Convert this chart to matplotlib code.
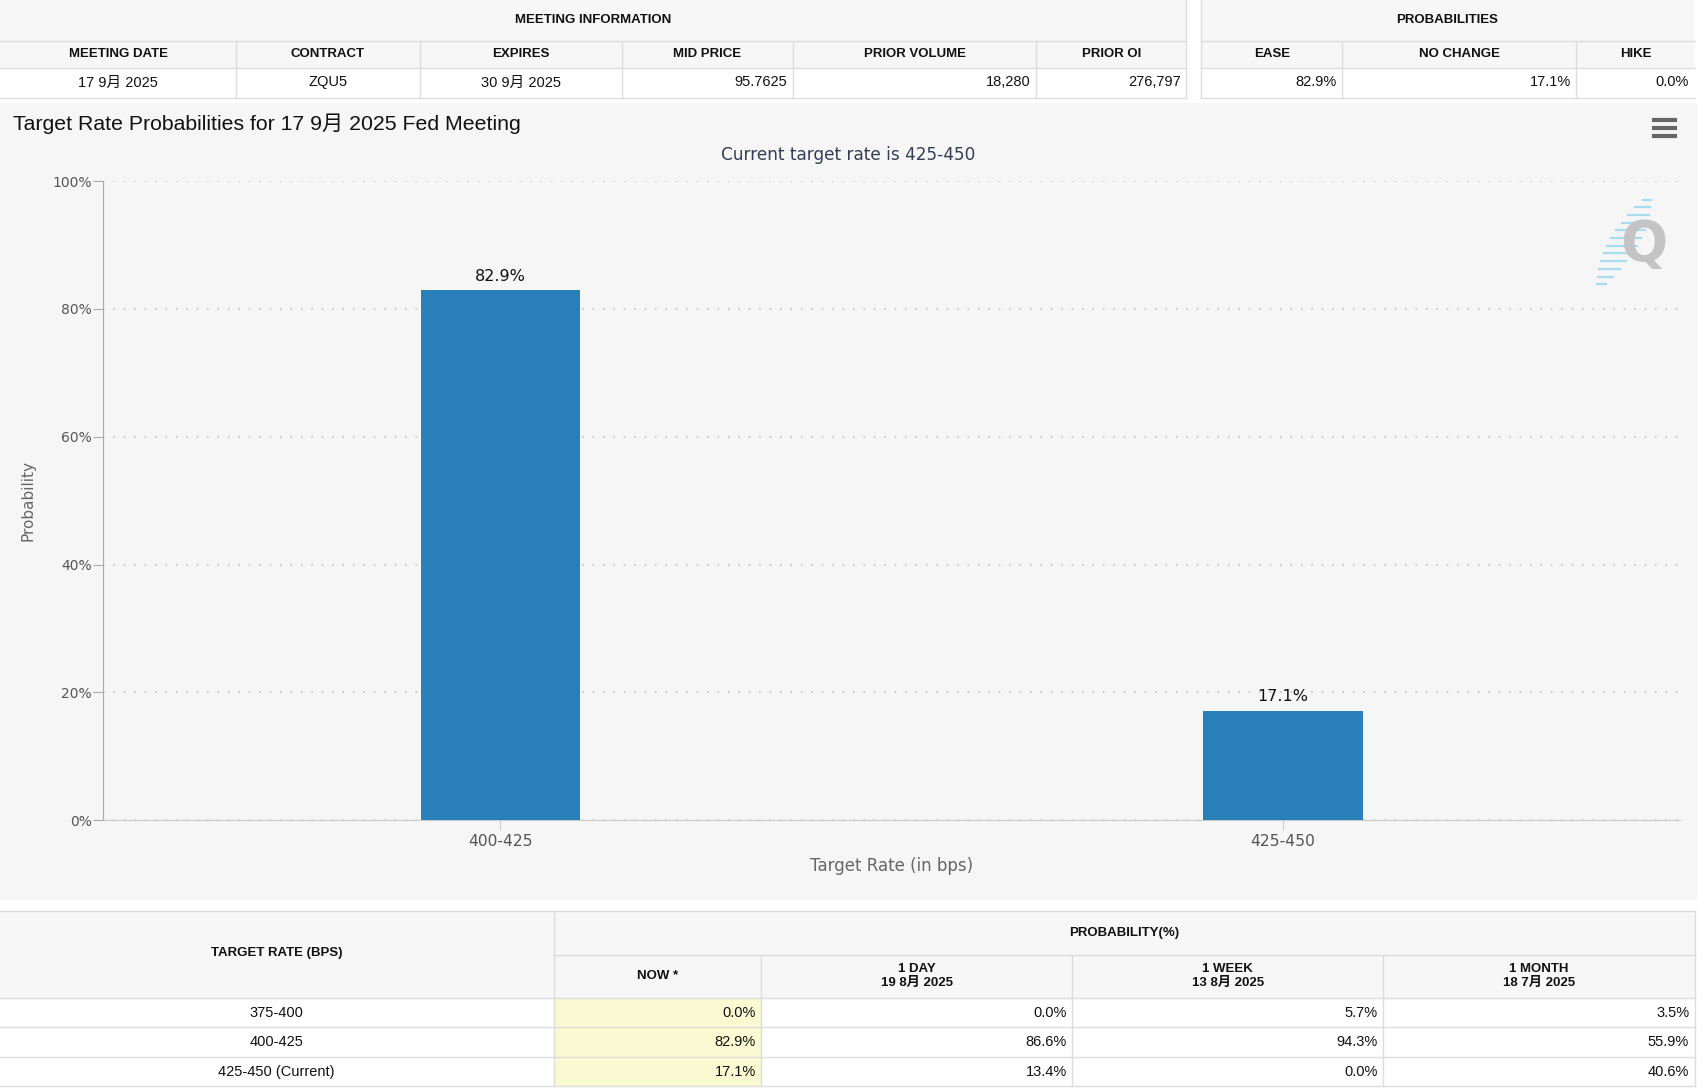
import numpy as np
import matplotlib.pyplot as plt
from matplotlib.patches import Rectangle
from matplotlib.lines import Line2D

# --- data -----------------------------------------------------------------
meeting_headers = ['MEETING DATE', 'CONTRACT', 'EXPIRES', 'MID PRICE', 'PRIOR VOLUME', 'PRIOR OI']
meeting_values = ['17 9月 2025', 'ZQU5', '30 9月 2025', '95.7625', '18,280', '276,797']
prob_headers = ['EASE', 'NO CHANGE', 'HIKE']
prob_values = ['82.9%', '17.1%', '0.0%']

rate_bins = ['400-425', '425-450']
probabilities = [82.9, 17.1]

table_rates = ['375-400', '400-425', '425-450 (Current)']
period_headers = ['NOW *', '1 DAY\n19 8月 2025', '1 WEEK\n13 8月 2025', '1 MONTH\n18 7月 2025']
prob_now = [0.0, 82.9, 17.1]
prob_1day = [0.0, 86.6, 13.4]
prob_1week = [5.7, 94.3, 0.0]
prob_1month = [3.5, 55.9, 40.6]

# --- layout helpers (reference pixel grid 1568 x 1003) --------------------
W, H = 1568.0, 1003.0


def fx(x):
    return x / W


def fy(y):
    return 1 - y / H


NARROW = ['Liberation Sans Narrow', 'Liberation Sans', 'Noto Sans CJK SC']
ARIAL = ['Liberation Sans', 'Noto Sans CJK SC']
GRID = '#dddddd'

fig = plt.figure(figsize=(17, 10.88), dpi=100, facecolor='white')


def rect(x0, y0, x1, y1, color):
    fig.patches.append(Rectangle((fx(x0), fy(y1)), fx(x1) - fx(x0), fy(y0) - fy(y1),
                                 transform=fig.transFigure, facecolor=color,
                                 edgecolor='none', zorder=-2))


def line(x0, y0, x1, y1, color=GRID, lw=1.0):
    fig.lines.append(Line2D([fx(x0), fx(x1)], [fy(y0), fy(y1)],
                            transform=fig.transFigure, color=color, lw=lw, zorder=-1))


def txt(x, y, s, ha='center', size=9.5, weight='normal', family=NARROW, color='#111111'):
    fig.text(fx(x), fy(y), s, ha=ha, va='center', fontsize=size, fontweight=weight,
             family=family, color=color, linespacing=1.25)


# --- top tables ------------------------------------------------------------
meet_edges = [0, 218, 387, 574, 731, 956, 1094]
prob_edges = [1108, 1238, 1454, 1563]
for x0, x1 in [(meet_edges[0], meet_edges[-1]), (prob_edges[0], prob_edges[-1])]:
    rect(x0, 0, x1, 63, '#f7f7f7')
    rect(x0, 63, x1, 90, 'white')
    for yy in (38, 63, 90):
        line(x0, yy, x1, yy)
for edges in (meet_edges, prob_edges):
    for xx in edges[1:-1]:
        line(xx, 38, xx, 90)
line(1094, 0, 1094, 90)
line(1108, 0, 1108, 90)

txt(547, 18, 'MEETING INFORMATION', weight='bold')
txt(1335, 18, 'PROBABILITIES', weight='bold')
for i, (h, v) in enumerate(zip(meeting_headers, meeting_values)):
    x0, x1 = meet_edges[i], meet_edges[i + 1]
    txt((x0 + x1) / 2, 50, h, weight='bold')
    if i < 3:
        txt((x0 + x1) / 2, 76, v, size=10.5)
    else:
        txt(x1 - 5, 76, v, ha='right', size=10.5)
for i, (h, v) in enumerate(zip(prob_headers, prob_values)):
    x0, x1 = prob_edges[i], prob_edges[i + 1]
    txt((x0 + x1) / 2, 50, h, weight='bold')
    txt(x1 - 5, 76, v, ha='right', size=10.5)

# --- chart panel -----------------------------------------------------------
rect(0, 95, 1565, 830, '#f6f6f6')
fig.text(fx(12), fy(114), 'Target Rate Probabilities for 17 9月 2025 Fed Meeting',
         ha='left', va='center', fontsize=15.3, family=ARIAL, color='#111111')
fig.text(fx(782), fy(143), 'Current target rate is 425-450', ha='center', va='center',
         fontsize=12.2, family='DejaVu Sans', color='#333d55')

# menu icon
for yy in (111, 118, 125):
    line(1526, yy, 1545, yy, color='#666666', lw=3)

# watermark logo
fig.text(fx(1516), fy(226), 'Q', ha='center', va='center', fontsize=40,
         fontweight='bold', family='DejaVu Sans', color='#c4c4c4')
for k, t in enumerate(np.linspace(0, 1, 12)):
    yy = 184 + 78 * t
    xc = 1519 - 42 * t
    half = 4 + 10 * np.sin(np.pi * t)
    line(xc - half, yy, xc + half, yy, color='#a8dcef', lw=1.6)

ax = fig.add_axes([fx(95), fy(756), fx(1550) - fx(95), fy(167) - fy(756)])
ax.set_facecolor('none')
x = np.arange(len(rate_bins))
bars = ax.bar(x, probabilities, width=0.204, color='#2980b9', zorder=3)
for b, p in zip(bars, probabilities):
    ax.text(b.get_x() + b.get_width() / 2, p + 1.0, f'{p:.1f}%', ha='center', va='bottom',
            fontsize=11.5, color='#111111', family='DejaVu Sans')

ax.set_xlim(-0.508, 1.508)
ax.set_ylim(0, 100)
ax.set_yticks(np.arange(0, 101, 20))
ax.set_yticklabels([f'{v}%' for v in range(0, 101, 20)])
ax.set_xticks(x)
ax.set_xticklabels(rate_bins)
ax.yaxis.grid(True, color='#c8c8c8', linestyle=(0, (0.7, 4.3)), lw=1.5)
ax.set_axisbelow(True)
for s in ('top', 'right'):
    ax.spines[s].set_visible(False)
ax.spines['left'].set_color('#aaaaaa')
ax.spines['bottom'].set_color('#cccccc')
ax.tick_params(axis='y', length=7, color='#aaaaaa', labelsize=10, labelcolor='#555555', pad=1)
ax.tick_params(axis='x', length=7, color='#cccccc', labelsize=11.2, labelcolor='#555555', pad=3)
for lab in ax.get_xticklabels() + ax.get_yticklabels():
    lab.set_family('DejaVu Sans')
ax.set_xlabel('Target Rate (in bps)', fontsize=12, color='#666666', labelpad=6, family='DejaVu Sans')
ax.set_ylabel('Probability', fontsize=11, color='#666666', labelpad=12, family='DejaVu Sans')

# --- bottom table ----------------------------------------------------------
col_edges = [0, 511, 702, 989, 1276, 1563]
rect(0, 840, 1563, 920, '#f7f7f7')
rect(511, 920, 702, 1001, '#f9f9d2')
line(0, 840, 1563, 840)
line(511, 880, 1563, 880)
for yy in (920, 947, 974, 1001):
    line(0, yy, 1563, yy)
line(511, 840, 511, 1001)
for xx in col_edges[2:-1]:
    line(xx, 880, xx, 1001)
line(1563, 840, 1563, 1001)

txt(255, 879, 'TARGET RATE (BPS)', weight='bold')
txt(1037, 860, 'PROBABILITY(%)', weight='bold')
for i, h in enumerate(period_headers):
    x0, x1 = col_edges[i + 1], col_edges[i + 2]
    txt((x0 + x1) / 2, 900, h, weight='bold')

columns = [prob_now, prob_1day, prob_1week, prob_1month]
for r, rate in enumerate(table_rates):
    yc = 934 + 27 * r
    txt(255, yc, rate, size=10.5)
    for c, col in enumerate(columns):
        txt(col_edges[c + 2] - 5, yc, f'{col[r]:.1f}%', ha='right', size=10.5)

fig.savefig('out.png', dpi=100, facecolor=fig.get_facecolor())
